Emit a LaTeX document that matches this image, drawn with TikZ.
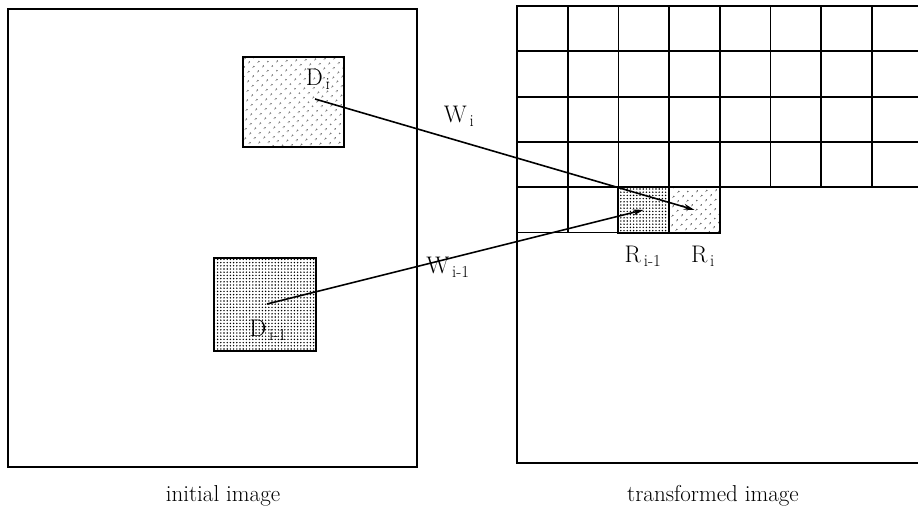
\documentclass[tikz,border=0pt]{standalone}
\usetikzlibrary{patterns.meta,arrows.meta}
\begin{document}
\begin{tikzpicture}[x=1pt,y=-1pt,
  frame/.style={line width=2pt},
  gridline/.style={line width=1.8pt},
  lightdots/.style={draw, line width=2pt, pattern={Dots[distance=6.5pt, radius=0.85pt, angle=45]}},
  densedots/.style={draw, line width=2pt, pattern={Dots[distance=3.2pt, radius=0.8pt]}},
  lbl/.style={inner sep=0pt, font=\fontsize{24}{28}\selectfont},
  caption/.style={inner sep=0pt, font=\fontsize{23}{27}\selectfont},
  map/.style={line width=1.6pt, -{Stealth[length=11pt,width=6pt]}}]
\useasboundingbox (0,0) rectangle (918,509);
\clip (0,0) rectangle (918,509);
% initial image
\node[frame, draw, minimum width=409pt, minimum height=458pt, inner sep=0pt] (init) at (212.5,238) {};
\node[lightdots, minimum width=101pt, minimum height=90pt, inner sep=0pt] (Di) at (293.5,102) {};
\node[densedots, minimum width=102pt, minimum height=93pt, inner sep=0pt] (Dim) at (265,304.5) {};
\node[lbl] (DiL) at (318,79) {D\textsubscript{\,i}};
\node[lbl] (DimL) at (268,330) {D\textsubscript{\,i-1}};
\node[caption] (capA) at (223,496) {initial image};
% transformed image
\draw[frame] (930,6) -- (517,6) -- (517,463) -- (930,463);
\foreach \y in {51.3,96.6,141.9,187.2} \draw[gridline] (517,\y) -- (930,\y);
\draw[gridline] (517,232.5) -- (719.8,232.5);
\foreach \x in {567.7,618.4,669.1,719.8} \draw[gridline] (\x,6) -- (\x,232.5);
\foreach \x in {770.5,821.2,871.9} \draw[gridline] (\x,6) -- (\x,187.2);
\node[densedots, minimum width=50.7pt, minimum height=45.3pt, inner sep=0pt] (Rim) at (643.75,209.85) {};
\node[lightdots, minimum width=50.7pt, minimum height=45.3pt, inner sep=0pt] (Ri) at (694.45,209.85) {};
\node[lbl] (RimL) at (643,256) {R\textsubscript{\,i-1}};
\node[lbl] (RiL) at (703,256) {R\textsubscript{\,i}};
\node[caption] (capB) at (713,496) {transformed image};
% mappings
\coordinate (s1) at (315,99);
\coordinate (s2) at (267,304);
\draw[map] (s1) -- (Ri.center);
\draw[map] (s2) -- (Rim.center);
\node[lbl] (Wi) at (459,116) {W\textsubscript{\,i}};
\node[lbl] (Wim) at (448,267) {W\textsubscript{\,i-1}};
\end{tikzpicture}
\end{document}
